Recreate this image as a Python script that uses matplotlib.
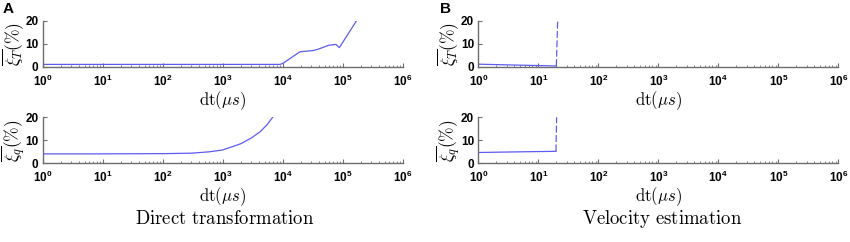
import numpy as np
import matplotlib
matplotlib.use("Agg")
import matplotlib.pyplot as plt

plt.rcParams['mathtext.fontset'] = 'cm'
plt.rcParams['font.family'] = ['Liberation Sans', 'DejaVu Sans']

# Panel A (direct transformation)
a_T_dt = [1, 10, 100, 1000, 9000, 10000, 19400, 32000, 39000, 58000, 77000, 88000, 170000]
a_T_err = [1.0, 1.0, 1.0, 1.0, 1.0, 1.4, 6.5, 7.0, 7.6, 9.3, 9.7, 8.3, 20.0]
a_q_dt = [1, 10, 100, 300, 600, 1000, 2000, 3000, 4200, 5500, 6800]
a_q_err = [4.1, 4.1, 4.2, 4.4, 5.0, 5.8, 8.5, 11.0, 13.7, 16.8, 20.0]

# Panel B (velocity estimation)
b_T_dt = [1, 3, 10, 20]
b_T_err = [1.1, 0.8, 0.5, 0.3]
b_T_div_dt = [20, 21]
b_T_div_err = [0.3, 20.0]
b_q_dt = [1, 3, 10, 19.7]
b_q_err = [4.7, 4.9, 5.1, 5.2]
b_q_div_dt = [19.7, 20.2]
b_q_div_err = [5.2, 20.0]

xticks = [1e0, 1e1, 1e2, 1e3, 1e4, 1e5, 1e6]
xticklabels = [r'$\mathregular{10^{%d}}$' % i for i in range(7)]
yticks = [0, 10, 20]

line_color = '#5c5cf2'
spine_color = '#6e6e6e'

fig = plt.figure(figsize=(8.5, 2.42), dpi=100)

W, H = 850, 242
def ax_at(x0, x1, ytop, ybot):
    return fig.add_axes([x0 / W, 1 - ybot / H, (x1 - x0) / W, (ybot - ytop) / H])

axA1 = ax_at(42.7, 402.7, 20.7, 66.7)
axA2 = ax_at(42.7, 402.7, 117.3, 163.3)
axB1 = ax_at(478.3, 838.3, 20.7, 66.7)
axB2 = ax_at(478.3, 838.3, 117.3, 163.3)

dash = (0, (5.5, 2))
axA1.plot(a_T_dt, a_T_err, color=line_color, lw=0.9)
axA2.plot(a_q_dt, a_q_err, color=line_color, lw=0.9)
axB1.plot(b_T_dt, b_T_err, color=line_color, lw=0.9)
axB1.plot(b_T_div_dt, b_T_div_err, color=line_color, lw=0.9, ls=dash)
axB2.plot(b_q_dt, b_q_err, color=line_color, lw=0.9)
axB2.plot(b_q_div_dt, b_q_div_err, color=line_color, lw=0.9, ls=dash)

ylabels = [r'$\overline{\xi_T}(\%)$', r'$\overline{\xi_q}(\%)$']
for ax, yl in zip([axA1, axA2, axB1, axB2], ylabels * 2):
    ax.set_xscale('log')
    ax.set_xlim(1, 1e6)
    ax.set_ylim(0, 20)
    ax.set_xticks(xticks)
    ax.set_xticklabels(xticklabels)
    ax.set_yticks(yticks)
    ax.set_yticklabels([str(v) for v in yticks])
    for s in ['top', 'right']:
        ax.spines[s].set_visible(False)
    for s in ['left', 'bottom']:
        ax.spines[s].set_color(spine_color)
        ax.spines[s].set_linewidth(1.0)
    ax.tick_params(which='both', direction='in', color=spine_color)
    ax.tick_params(which='major', length=3, width=0.8, labelsize=8.5)
    ax.tick_params(axis='x', which='major', pad=5)
    ax.tick_params(axis='y', which='major', pad=3)
    ax.tick_params(which='minor', length=1.8, width=0.6)
    for lab in ax.get_xticklabels() + ax.get_yticklabels():
        lab.set_fontweight('bold')
    ax.set_xlabel(r'$\mathrm{dt}(\mu s)$', fontsize=12, labelpad=0)
    ax.set_ylabel(yl, fontsize=12.5, labelpad=-1)
    ax.patch.set_alpha(0)

fig.text(3 / W, 1 - 9 / H, 'A', fontsize=11, fontweight='bold', va='center', ha='left')
fig.text(440 / W, 1 - 9 / H, 'B', fontsize=11, fontweight='bold', va='center', ha='left')
fig.text(225 / W, 1 - 219 / H, r'$\mathrm{Direct\ transformation}$', fontsize=13.5, ha='center', va='center')
fig.text(662 / W, 1 - 219 / H, r'$\mathrm{Velocity\ estimation}$', fontsize=13.5, ha='center', va='center')

fig.savefig('out.png', dpi=100, facecolor='white')
